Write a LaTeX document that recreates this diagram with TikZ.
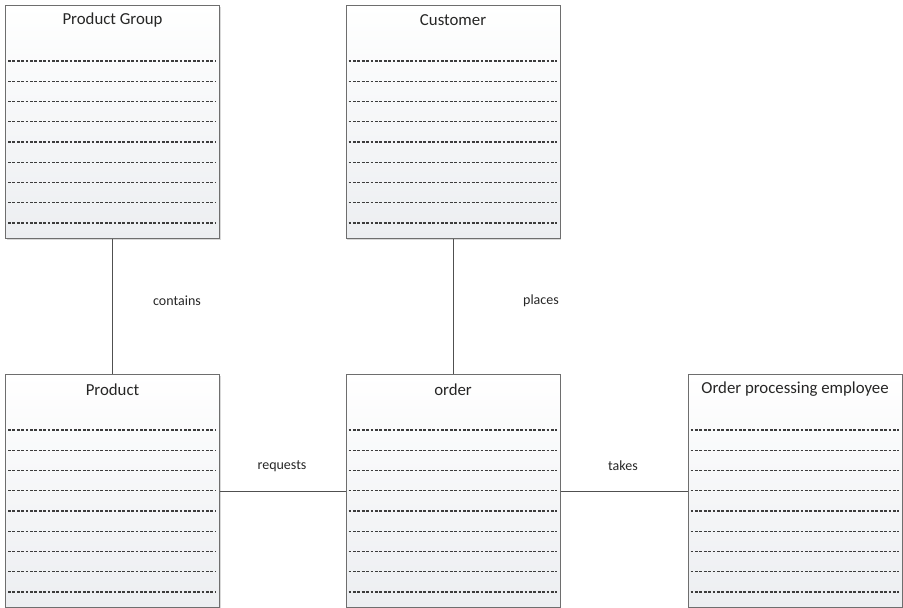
\documentclass[tikz,border=0pt]{standalone}
\usepackage{fontspec}
\setmainfont{Carlito}
\usetikzlibrary{shadows}
\definecolor{edgegray}{HTML}{6E6E6E}
\definecolor{linegray}{HTML}{505050}
\definecolor{attrgray}{HTML}{3C3C3C}
\definecolor{fillbottom}{HTML}{ECEEF1}
\definecolor{textgray}{HTML}{262626}
\begin{document}
\begin{tikzpicture}[x=1pt,y=-1pt,
  entity/.style={draw=edgegray, line width=1.1pt, rectangle, anchor=north west,
    minimum width=214pt, minimum height=233pt, inner sep=0pt,
    top color=white, bottom color=fillbottom,
    drop shadow={shadow xshift=1.2pt, shadow yshift=-1.2pt, opacity=0.25, fill=black!60}},
  title/.style={text=textgray, font=\fontsize{16.8}{20}\selectfont, inner sep=0pt},
  attrline/.style={draw=attrgray, line width=1.05pt, dash pattern=on 2.8pt off 1.6pt},
  link/.style={draw=linegray, line width=1pt},
  rel/.style={text=textgray, font=\fontsize{14}{17}\selectfont, inner sep=0pt}]

\useasboundingbox (0,0) rectangle (903,608);

% entity boxes
\node[entity] (pg) at (5,5) {};
\node[entity] (cu) at (345.5,5) {};
\node[entity] (pr) at (5,374) {};
\node[entity] (od) at (345.5,374) {};
\node[entity] (ope) at (687.5,374) {};

% titles and empty attribute rows
\foreach \b/\t in {pg/Product Group, cu/Customer, pr/Product, od/order, ope/Order processing employee}{
  \node[title] (\b-title) at ([yshift=-15.5pt]\b.north) {\t};
  \foreach \i in {0,...,8}{
    \draw[attrline] ([xshift=3pt, yshift=-56pt-20.25pt*\i]\b.north west)
      -- ([xshift=-4pt, yshift=-56pt-20.25pt*\i]\b.north east);
  }
}

% relationships
\draw[link] (pg.south) -- (pr.north);
\draw[link] (cu.south) -- (od.north);
\draw[link] (pr.east) -- (od.west);
\draw[link] (od.east) -- (ope.west);

\node[rel] (contains) at (177,301) {contains};
\node[rel] (places) at (541,301) {places};
\node[rel] (requests) at (282,466) {requests};
\node[rel] (takes) at (623,466) {takes};
\end{tikzpicture}
\end{document}
